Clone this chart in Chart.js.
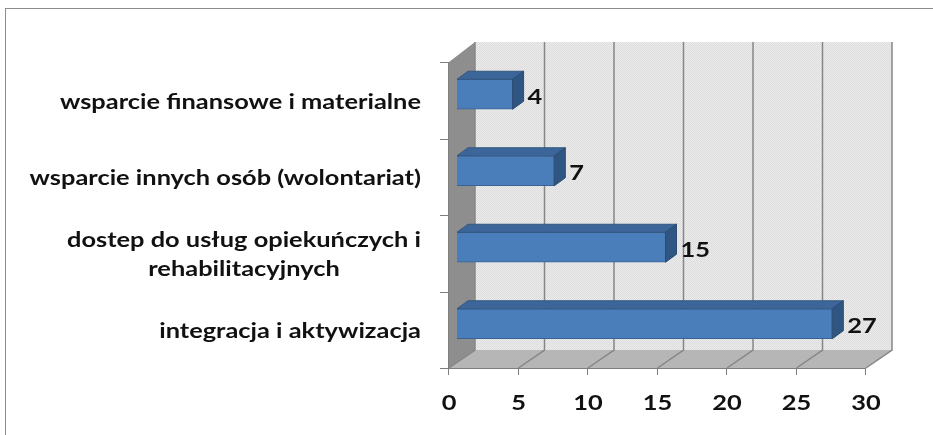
<!DOCTYPE html>
<html>
<head>
<meta charset="utf-8">
<script src="https://cdn.jsdelivr.net/npm/chart.js@4.4.1/dist/chart.umd.min.js"></script>
<style>
    html, body { margin: 0; padding: 0; background: #fff; }
    #wrap { position: relative; width: 933px; height: 435px; }
</style>
</head>
<body>
<div id="wrap"><canvas id="supportChart"></canvas></div>
<script>
const categories = [
    'wsparcie finansowe i materialne',
    'wsparcie innych osób (wolontariat)',
    ['dostep do usług opiekuńczych i', 'rehabilitacyjnych'],
    'integracja i aktywizacja'
];
const values = [4, 7, 15, 27];
const xTicks = [0, 5, 10, 15, 20, 25, 30];

document.addEventListener('DOMContentLoaded', function () {
    const ctx = document.getElementById('supportChart').getContext('2d');

    const FRONT = { dx: -8, dy: 6 };   // front plane relative to bar plane
    const BACK = { dx: 18, dy: -12 };  // back wall relative to bar plane
    const DEPTH = { dx: 11, dy: -8 };  // bar thickness in depth
    const FONT = 'bold 20px Lato';
    const SX = 1.27;                   // horizontal text stretch

    // draws text with a horizontal stretch like the original picture
    function stretchText(c, text, x, y, align) {
        c.save();
        c.translate(x, y);
        c.scale(SX, 1);
        c.textAlign = align;
        c.fillText(text, 0, 0);
        c.restore();
    }

    function wallPattern() {
        const p = document.createElement('canvas');
        p.width = 2; p.height = 2;
        const pc = p.getContext('2d');
        pc.fillStyle = '#ececec'; pc.fillRect(0, 0, 2, 2);
        pc.fillStyle = '#dcdcdc'; pc.fillRect(0, 0, 1, 1); pc.fillRect(1, 1, 1, 1);
        return ctx.createPattern(p, 'repeat');
    }

    function poly(c, pts, fill, stroke) {
        c.beginPath();
        c.moveTo(pts[0][0], pts[0][1]);
        for (let i = 1; i < pts.length; i++) c.lineTo(pts[i][0], pts[i][1]);
        c.closePath();
        if (fill) { c.fillStyle = fill; c.fill(); }
        if (stroke) { c.strokeStyle = stroke; c.lineWidth = 1; c.stroke(); }
    }

    const scene3d = {
        id: 'scene3d',
        beforeDatasetsDraw(chart) {
            const c = chart.ctx;
            const a = chart.chartArea;
            const x = chart.scales.x;
            const y = chart.scales.y;
            const x0 = x.getPixelForValue(0), x30 = x.getPixelForValue(30);

            c.save();
            // outer frame
            c.strokeStyle = '#8c8c8c';
            c.lineWidth = 1;
            c.strokeRect(5.5, 8.5, 960, 460);

            // back wall
            c.fillStyle = wallPattern();
            c.fillRect(x0 + BACK.dx, a.top + BACK.dy - 2, x30 - x0, a.bottom - a.top + 2);

            // left wall
            poly(c, [
                [x0 + FRONT.dx, a.top + FRONT.dy], [x0 + BACK.dx, a.top + BACK.dy - 2],
                [x0 + BACK.dx, a.bottom + BACK.dy], [x0 + FRONT.dx, a.bottom + FRONT.dy]
            ], '#8e8e8e');

            // floor
            poly(c, [
                [x0 + FRONT.dx, a.bottom + FRONT.dy], [x0 + BACK.dx, a.bottom + BACK.dy],
                [x30 + BACK.dx, a.bottom + BACK.dy], [x30 + FRONT.dx, a.bottom + FRONT.dy]
            ], '#b6b6b6');

            // grid lines on back wall and floor
            c.strokeStyle = '#868686';
            c.lineWidth = 1.5;
            xTicks.forEach(function (t) {
                const px = x.getPixelForValue(t);
                c.beginPath();
                c.moveTo(px + BACK.dx, a.top + BACK.dy - 2);
                c.lineTo(px + BACK.dx, a.bottom + BACK.dy);
                c.lineTo(px + FRONT.dx, a.bottom + FRONT.dy);
                c.stroke();
            });

            // axes on the front plane
            c.strokeStyle = '#7f7f7f';
            c.lineWidth = 1;
            c.beginPath();
            c.moveTo(x0 + FRONT.dx - 0.5, a.top + FRONT.dy);
            c.lineTo(x0 + FRONT.dx - 0.5, a.bottom + FRONT.dy + 0.5);
            c.lineTo(x30 + FRONT.dx, a.bottom + FRONT.dy + 0.5);
            c.stroke();
            for (let i = 0; i <= categories.length; i++) {
                const py = Math.round(y.getPixelForValue(i - 0.5) + FRONT.dy) + 0.5;
                c.beginPath();
                c.moveTo(x0 + FRONT.dx - 9, py);
                c.lineTo(x0 + FRONT.dx, py);
                c.stroke();
            }
            xTicks.forEach(function (t) {
                const px = Math.round(x.getPixelForValue(t) + FRONT.dx) - 0.5;
                c.beginPath();
                c.moveTo(px, a.bottom + FRONT.dy);
                c.lineTo(px, a.bottom + FRONT.dy + 7);
                c.stroke();
            });
            c.restore();
        },
        afterDatasetsDraw(chart) {
            const c = chart.ctx;
            const meta = chart.getDatasetMeta(0);
            c.save();
            meta.data.forEach(function (bar, i) {
                const p = bar.getProps(['x', 'y', 'base', 'height'], true);
                const top = p.y - p.height / 2, bot = p.y + p.height / 2;
                // top face
                poly(c, [
                    [p.base, top], [p.x, top],
                    [p.x + DEPTH.dx, top + DEPTH.dy], [p.base + DEPTH.dx, top + DEPTH.dy]
                ], '#3c6699', '#325780');
                // right face
                poly(c, [
                    [p.x, top], [p.x + DEPTH.dx, top + DEPTH.dy],
                    [p.x + DEPTH.dx, bot + DEPTH.dy], [p.x, bot]
                ], '#2f5582', '#2a4c74');
                // value label
                c.fillStyle = '#111';
                c.font = FONT;
                c.textBaseline = 'middle';
                stretchText(c, String(values[i]), p.x + DEPTH.dx + 4, p.y + 3, 'left');
            });
            c.restore();
        },
        afterDraw(chart) {
            const c = chart.ctx;
            const a = chart.chartArea;
            const x = chart.scales.x;
            const y = chart.scales.y;
            c.save();
            c.fillStyle = '#111';
            c.font = FONT;
            c.textBaseline = 'middle';
            // category labels, right aligned block, lines centred
            categories.forEach(function (label, i) {
                const lines = Array.isArray(label) ? label : [label];
                const cy = y.getPixelForValue(i) + FRONT.dy + 2;
                const lh = 29;
                let w = 0;
                lines.forEach(function (l) { w = Math.max(w, c.measureText(l).width * SX); });
                const cx = 421 - w / 2;
                lines.forEach(function (l, k) {
                    stretchText(c, l, cx, cy + (k - (lines.length - 1) / 2) * lh, 'center');
                });
            });
            // value axis tick labels
            xTicks.forEach(function (t) {
                stretchText(c, String(t), x.getPixelForValue(t) + FRONT.dx, a.bottom + FRONT.dy + 36, 'center');
            });
            c.restore();
        }
    };

    new Chart(ctx, {
        type: 'bar',
        data: {
            labels: categories,
            datasets: [{
                data: values,
                backgroundColor: '#4a7ebb',
                borderColor: '#3a6292',
                borderWidth: 1,
                barThickness: 30
            }]
        },
        options: {
            indexAxis: 'y',
            responsive: true,
            maintainAspectRatio: false,
            animation: false,
            layout: { padding: { left: 457, right: 59, top: 56, bottom: 73 } },
            scales: {
                x: { display: false, min: 0, max: 30 },
                y: { display: false }
            },
            plugins: {
                legend: { display: false },
                tooltip: { enabled: false }
            }
        },
        plugins: [scene3d]
    });
});
</script>
</body>
</html>
